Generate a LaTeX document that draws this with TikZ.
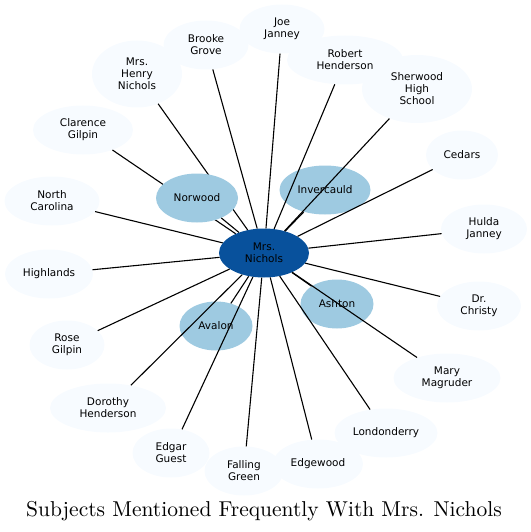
\documentclass[tikz,border=0pt]{standalone}
\usepackage{fontspec}
\usepackage{xcolor}
\usepackage{tikz}
\usetikzlibrary{shapes.geometric}
\newfontfamily\labelfont{DejaVu Sans}
\newfontfamily\titlefont{lmroman10-regular.otf}
\definecolor{hubblue}{RGB}{8,81,156}
\definecolor{midblue}{RGB}{158,202,225}
\definecolor{paleblue}{RGB}{247,251,255}

\tikzset{
  topic/.style={ellipse, fill=paleblue, inner sep=0pt, minimum height=49pt,
    align=center, font=\labelfont\fontsize{10.5}{12}\selectfont},
  place/.style={topic, fill=midblue},
  hub/.style={topic, fill=hubblue},
  link/.style={line width=1.1pt}
}

\begin{document}
\begin{tikzpicture}[x=1pt, y=-1pt]
  \useasboundingbox (0,0) rectangle (530,532);
  % Hub
  \node[hub, minimum width=90pt] (nichols) at (264,253) {Mrs.\\Nichols};
  % Places close to the hub
  \node[place, minimum width=91pt] (invercauld) at (325,190) {Invercauld};
  \node[place, minimum width=73pt] (ashton) at (337,304) {Ashton};
  \node[place, minimum width=73pt] (avalon) at (216,326) {Avalon};
  % Outer ring, clockwise from the top
  \node[topic, minimum width=85pt] (brooke) at (206,45) {Brooke\\Grove};
  \node[topic, minimum width=85pt] (joe) at (282,29) {Joe\\Janney};
  \node[topic, minimum width=116pt] (robert) at (345,60) {Robert\\Henderson};
  \node[topic, minimum width=110pt, minimum height=68pt] (sherwood) at (417,89) {Sherwood\\High\\School};
  \node[topic, minimum width=72pt] (cedars) at (462,155) {Cedars};
  \node[topic, minimum width=86pt] (hulda) at (484,229) {Hulda\\Janney};
  \node[topic, minimum width=84pt] (christy) at (479,306) {Dr.\\Christy};
  \node[topic, minimum width=107pt] (mary) at (447,378) {Mary\\Magruder};
  \node[topic, minimum width=103pt] (londonderry) at (386,433) {Londonderry};
  \node[topic, minimum width=79pt] (falling) at (244,471) {Falling\\Green};
  \node[topic, minimum width=90pt] (edgewood) at (318,464) {Edgewood};
  \node[topic, minimum width=77pt] (edgar) at (171,453) {Edgar\\Guest};
  \node[topic, minimum width=116pt] (dorothy) at (108,408) {Dorothy\\Henderson};
  \node[topic, minimum width=75pt] (rose) at (67,345) {Rose\\Gilpin};
  \node[topic, minimum width=88pt] (highlands) at (49,274) {Highlands};
  \node[topic, minimum width=95pt] (carolina) at (52,201) {North\\Carolina};
  \node[topic, minimum width=100pt] (clarence) at (83,130) {Clarence\\Gilpin};
  \node[topic, minimum width=90pt, minimum height=67pt] (henry) at (137,74) {Mrs.\\Henry\\Nichols};
  % Links
  \foreach \n in {invercauld, ashton, avalon, brooke, joe, robert, sherwood, cedars,
      hulda, christy, mary, londonderry, edgewood, falling, edgar, dorothy, rose,
      highlands, carolina, clarence, henry}
    \draw[link] (nichols) -- (\n);
  % Norwood hides the links that pass under it
  \node[place, minimum width=82pt] (norwood) at (197,198) {Norwood};
  \draw[link] (nichols) -- (norwood);
  % Title
  \node[font=\titlefont\fontsize{21.5}{24}\selectfont] (title) at (264,511) {Subjects Mentioned Frequently With Mrs. Nichols};
\end{tikzpicture}
\end{document}
